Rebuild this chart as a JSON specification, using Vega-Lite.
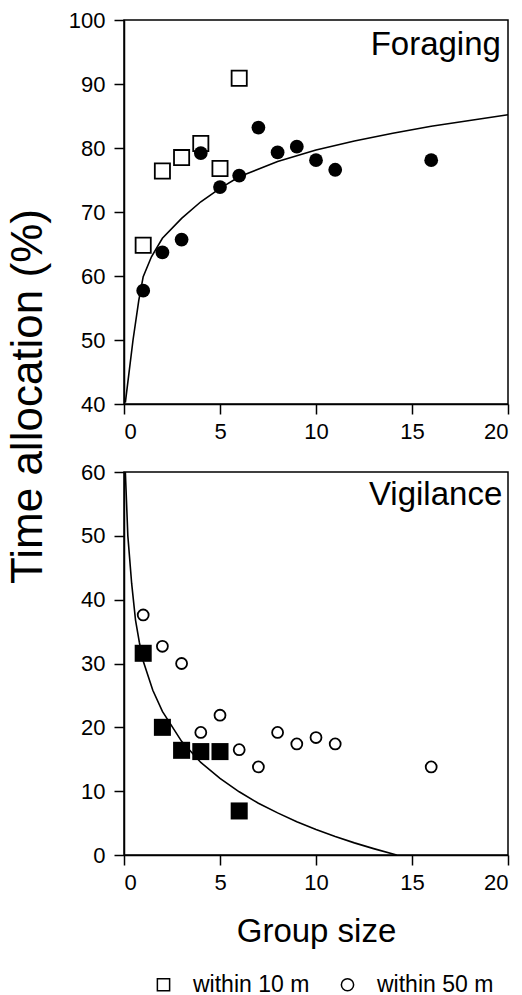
{
  "$schema": "https://vega.github.io/schema/vega-lite/v6.json",
  "background": "white",
  "padding": {"left": 5, "top": 8, "right": 10, "bottom": 2},
  "bounds": "flush",
  "spacing": 68,
  "config": {
    "font": "Liberation Sans",
    "view": {"stroke": "black", "strokeWidth": 1.5},
    "axis": {
      "labelFont": "Liberation Sans", "labelFontSize": 22, "labelColor": "black",
      "titleFont": "Liberation Sans", "titleColor": "black", "titleFontWeight": "normal",
      "domainColor": "black", "tickColor": "black", "domainWidth": 1.5, "tickWidth": 1.5,
      "tickSize": 10, "grid": false
    },
    "legend": {
      "labelFont": "Liberation Sans", "labelFontSize": 23, "labelColor": "black"
    }
  },
  "datasets": {
    "pts": [
      {"panel": "F", "dist": "within 10 m", "x": 1, "y": 64.8},
      {"panel": "F", "dist": "within 10 m", "x": 2, "y": 76.4},
      {"panel": "F", "dist": "within 10 m", "x": 3, "y": 78.5},
      {"panel": "F", "dist": "within 10 m", "x": 4, "y": 80.7},
      {"panel": "F", "dist": "within 10 m", "x": 5, "y": 76.8},
      {"panel": "F", "dist": "within 10 m", "x": 6, "y": 90.9},
      {"panel": "F", "dist": "within 50 m", "x": 1, "y": 57.7},
      {"panel": "F", "dist": "within 50 m", "x": 2, "y": 63.7},
      {"panel": "F", "dist": "within 50 m", "x": 3, "y": 65.7},
      {"panel": "F", "dist": "within 50 m", "x": 4, "y": 79.2},
      {"panel": "F", "dist": "within 50 m", "x": 5, "y": 73.9},
      {"panel": "F", "dist": "within 50 m", "x": 6, "y": 75.7},
      {"panel": "F", "dist": "within 50 m", "x": 7, "y": 83.2},
      {"panel": "F", "dist": "within 50 m", "x": 8, "y": 79.3},
      {"panel": "F", "dist": "within 50 m", "x": 9, "y": 80.2},
      {"panel": "F", "dist": "within 50 m", "x": 10, "y": 78.1},
      {"panel": "F", "dist": "within 50 m", "x": 11, "y": 76.6},
      {"panel": "F", "dist": "within 50 m", "x": 16, "y": 78.1},
      {"panel": "V", "dist": "within 10 m", "x": 1, "y": 31.6},
      {"panel": "V", "dist": "within 10 m", "x": 2, "y": 20.0},
      {"panel": "V", "dist": "within 10 m", "x": 3, "y": 16.4},
      {"panel": "V", "dist": "within 10 m", "x": 4, "y": 16.2},
      {"panel": "V", "dist": "within 10 m", "x": 5, "y": 16.2},
      {"panel": "V", "dist": "within 10 m", "x": 6, "y": 6.9},
      {"panel": "V", "dist": "within 50 m", "x": 1, "y": 37.6},
      {"panel": "V", "dist": "within 50 m", "x": 2, "y": 32.7},
      {"panel": "V", "dist": "within 50 m", "x": 3, "y": 30.0},
      {"panel": "V", "dist": "within 50 m", "x": 4, "y": 19.2},
      {"panel": "V", "dist": "within 50 m", "x": 5, "y": 21.9},
      {"panel": "V", "dist": "within 50 m", "x": 6, "y": 16.5},
      {"panel": "V", "dist": "within 50 m", "x": 7, "y": 13.8},
      {"panel": "V", "dist": "within 50 m", "x": 8, "y": 19.2},
      {"panel": "V", "dist": "within 50 m", "x": 9, "y": 17.4},
      {"panel": "V", "dist": "within 50 m", "x": 10, "y": 18.4},
      {"panel": "V", "dist": "within 50 m", "x": 11, "y": 17.4},
      {"panel": "V", "dist": "within 50 m", "x": 16, "y": 13.8}
    ],
    "curves": [
      {"panel": "F", "x": 0.07, "y": 40.2},
      {"panel": "F", "x": 0.47, "y": 50.0},
      {"panel": "F", "x": 0.77, "y": 56.2},
      {"panel": "F", "x": 1.0, "y": 59.9},
      {"panel": "F", "x": 1.43, "y": 63.0},
      {"panel": "F", "x": 2, "y": 65.9},
      {"panel": "F", "x": 3, "y": 69.0},
      {"panel": "F", "x": 4, "y": 71.6},
      {"panel": "F", "x": 5, "y": 73.7},
      {"panel": "F", "x": 6, "y": 75.5},
      {"panel": "F", "x": 8, "y": 77.9},
      {"panel": "F", "x": 10, "y": 79.7},
      {"panel": "F", "x": 12, "y": 81.1},
      {"panel": "F", "x": 14, "y": 82.3},
      {"panel": "F", "x": 16, "y": 83.4},
      {"panel": "F", "x": 18, "y": 84.3},
      {"panel": "F", "x": 20, "y": 85.2},
      {"panel": "V", "x": 0.07, "y": 60.0},
      {"panel": "V", "x": 0.2, "y": 50.0},
      {"panel": "V", "x": 0.4, "y": 42.5},
      {"panel": "V", "x": 0.6, "y": 36.8},
      {"panel": "V", "x": 0.8, "y": 33.3},
      {"panel": "V", "x": 1, "y": 30.4},
      {"panel": "V", "x": 1.5, "y": 25.8},
      {"panel": "V", "x": 2, "y": 22.5},
      {"panel": "V", "x": 3, "y": 17.8},
      {"panel": "V", "x": 4, "y": 14.5},
      {"panel": "V", "x": 5, "y": 12.0},
      {"panel": "V", "x": 6, "y": 9.9},
      {"panel": "V", "x": 7, "y": 8.1},
      {"panel": "V", "x": 8, "y": 6.6},
      {"panel": "V", "x": 9, "y": 5.2},
      {"panel": "V", "x": 10, "y": 4.0},
      {"panel": "V", "x": 11, "y": 2.9},
      {"panel": "V", "x": 12, "y": 1.9},
      {"panel": "V", "x": 13, "y": 1.0},
      {"panel": "V", "x": 14.2, "y": 0.0}
    ],
    "labels": [
      {"panel": "F", "x": 19.63, "y": 94.5, "label": "Foraging"},
      {"panel": "V", "x": 19.7, "y": 54.8, "label": "Vigilance"}
    ]
  },
  "vconcat": [
    {
      "width": 384,
      "height": 384,
      "encoding": {
        "x": {"field": "x", "type": "quantitative", "scale": {"domain": [0, 20], "nice": false},
              "axis": {"values": [0, 5, 10, 15, 20], "title": null, "labelPadding": 7}},
        "y": {"field": "y", "type": "quantitative", "scale": {"domain": [40, 100], "nice": false, "zero": false},
              "axis": {"values": [40, 50, 60, 70, 80, 90, 100], "title": "Time allocation (%)",
                       "titleFontSize": 44, "titleY": 376, "titlePadding": 18, "labelPadding": 9}}
      },
      "layer": [
        {
          "data": {"name": "curves"},
          "transform": [{"filter": "datum.panel === 'F'"}],
          "mark": {"type": "line", "color": "black", "strokeWidth": 1.6}
        },
        {
          "data": {"name": "pts"},
          "transform": [{"filter": "datum.panel === 'F' && datum.dist === 'within 10 m'"}],
          "mark": {"type": "point", "filled": false, "color": "black", "size": 230, "strokeWidth": 1.8, "opacity": 1},
          "encoding": {
            "shape": {"field": "dist", "type": "nominal",
                      "scale": {"domain": ["within 10 m", "within 50 m"], "range": ["square", "circle"]},
                      "legend": {"title": null, "orient": "bottom", "direction": "horizontal",
                                 "labelOffset": 18, "columnPadding": 26, "symbolSize": 150,
                                 "padding": 28, "offset": -4,
                                 "symbolFillColor": "white", "symbolStrokeColor": "black", "symbolStrokeWidth": 1.5,
                                 "encode": {"symbols": {"update": {"fill": {"value": "white"}, "stroke": {"value": "black"}, "strokeWidth": {"value": 1.5}}}}}}
          }
        },
        {
          "data": {"name": "pts"},
          "transform": [{"filter": "datum.panel === 'F' && datum.dist === 'within 50 m'"}],
          "mark": {"type": "point", "filled": true, "color": "black", "size": 190, "opacity": 1},
          "encoding": {
            "shape": {"field": "dist", "type": "nominal"}
          }
        },
        {
          "data": {"name": "labels"},
          "transform": [{"filter": "datum.panel === 'F'"}],
          "mark": {"type": "text", "align": "right", "baseline": "alphabetic", "fontSize": 33, "color": "black", "font": "Liberation Sans"},
          "encoding": {"text": {"field": "label"}}
        }
      ]
    },
    {
      "width": 384,
      "height": 383,
      "encoding": {
        "x": {"field": "x", "type": "quantitative", "scale": {"domain": [0, 20], "nice": false},
              "axis": {"values": [0, 5, 10, 15, 20], "title": "Group size", "titleFontSize": 33, "titlePadding": 22, "labelPadding": 7}},
        "y": {"field": "y", "type": "quantitative", "scale": {"domain": [0, 60], "nice": false},
              "axis": {"values": [0, 10, 20, 30, 40, 50, 60], "title": null, "labelPadding": 9}}
      },
      "layer": [
        {
          "data": {"name": "curves"},
          "transform": [{"filter": "datum.panel === 'V'"}],
          "mark": {"type": "line", "color": "black", "strokeWidth": 1.6}
        },
        {
          "data": {"name": "pts"},
          "transform": [{"filter": "datum.panel === 'V' && datum.dist === 'within 50 m'"}],
          "mark": {"type": "point", "filled": false, "color": "black", "size": 120, "strokeWidth": 1.8, "opacity": 1},
          "encoding": {
            "shape": {"field": "dist", "type": "nominal"}
          }
        },
        {
          "data": {"name": "pts"},
          "transform": [{"filter": "datum.panel === 'V' && datum.dist === 'within 10 m'"}],
          "mark": {"type": "point", "filled": true, "color": "black", "size": 290, "opacity": 1},
          "encoding": {
            "shape": {"field": "dist", "type": "nominal"}
          }
        },
        {
          "data": {"name": "labels"},
          "transform": [{"filter": "datum.panel === 'V'"}],
          "mark": {"type": "text", "align": "right", "baseline": "alphabetic", "fontSize": 33, "color": "black", "font": "Liberation Sans"},
          "encoding": {"text": {"field": "label"}}
        }
      ]
    }
  ]
}
